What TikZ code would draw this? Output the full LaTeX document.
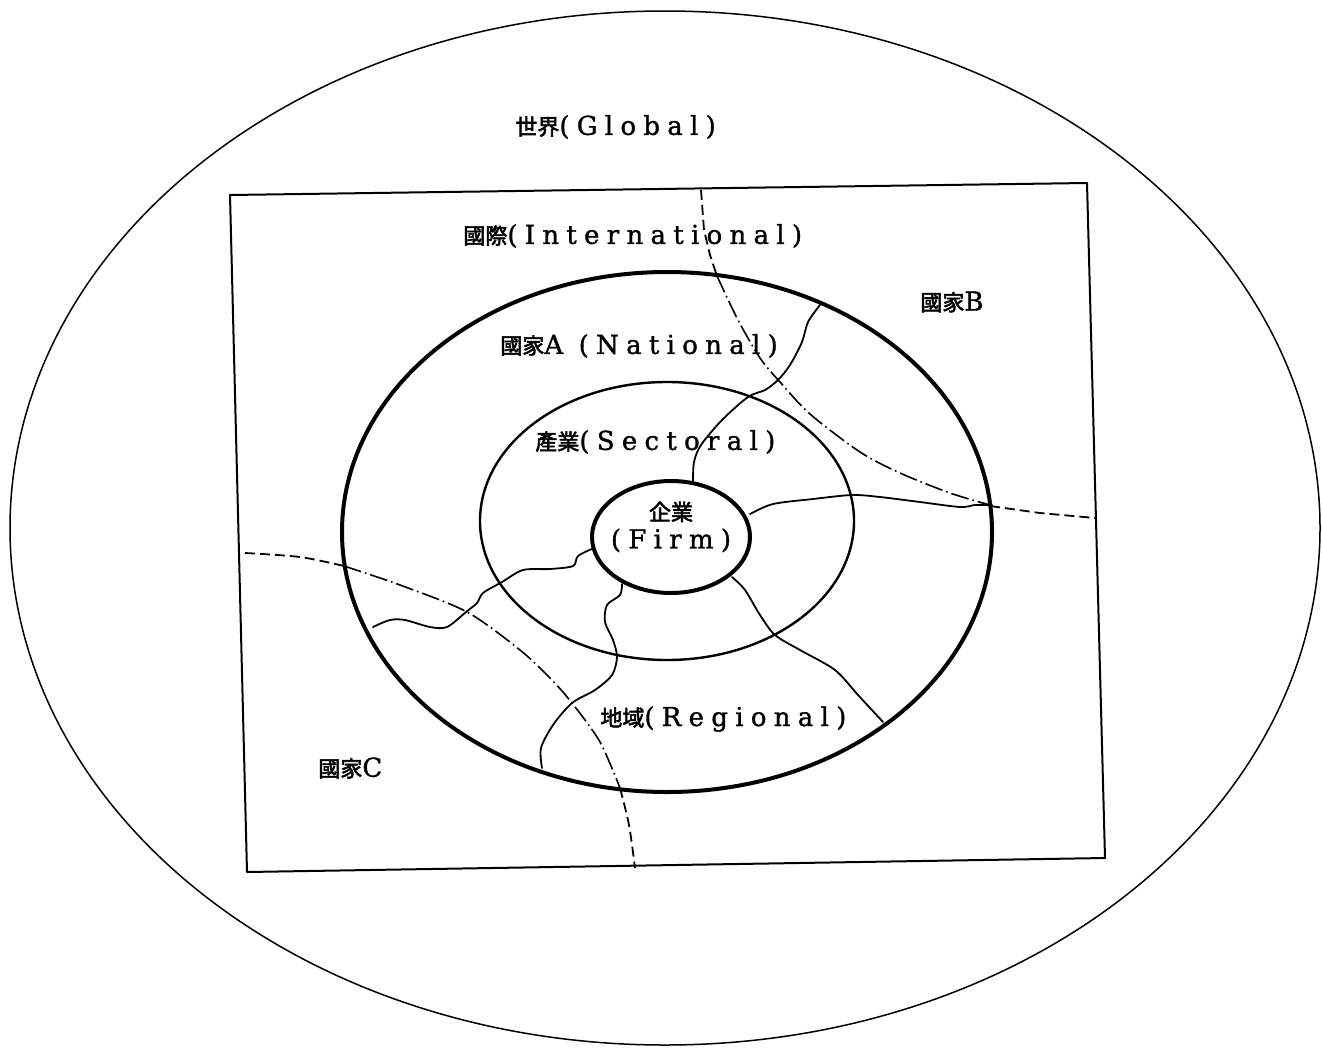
\documentclass[tikz,border=0pt]{standalone}
\usepackage{fontspec}
\setmainfont{DejaVu Serif}[LetterSpace=28, FakeBold=1.2]
\newfontfamily\cjk{Noto Sans CJK KR}[FakeBold=2.5]
\newcommand{\cj}[1]{{\fontsize{11}{12}\cjk #1}}
\begin{document}
\begin{tikzpicture}[x=0.5pt,y=-0.5pt,
  lab/.style={inner sep=0pt, anchor=west, font=\fontsize{13}{15}\selectfont},
  border/.style={line width=0.8pt, line join=round},
  bound/.style={line width=0.9pt, line join=round, line cap=round},
  dsh/.style={line width=0.9pt, dash pattern=on 5pt off 2.5pt},
  dshdot/.style={line width=0.8pt, dash pattern=on 9pt off 2pt on 0.8pt off 2pt}]
\useasboundingbox (0,0) rectangle (1322,1050);
\fill[white] (0,0) rectangle (1322,1050);

% global ellipse
\draw[line width=0.75pt] (665,528) ellipse [x radius=655, y radius=517];

% international rectangle
\coordinate (r1) at (230,195);
\coordinate (r2) at (1087,183);
\coordinate (r3) at (1105,858);
\coordinate (r4) at (247,872);
\draw[border, line width=1pt] (r1) -- (r2) -- (r3) -- (r4) -- cycle;

% national, sectoral, firm circles
\draw[line width=2pt] (667,532) ellipse [x radius=325, y radius=260];
\draw[line width=1.2pt] (667,521) ellipse [x radius=187, y radius=139];
\draw[line width=2pt] (671,537) ellipse [x radius=79, y radius=56];

% country B boundary
\draw[dsh] (701,190) -- (704,230) -- (710,255) -- (717,276);
\draw[dshdot] plot[smooth, tension=0.5] coordinates {(717,276) (738,320) (760,358) (780,382) (810,414) (860,452) (900,473) (950,493) (990,505)};
\draw[dsh] (990,506) -- (1040,513) -- (1095,518);

% country C boundary
\draw[dsh] plot[smooth, tension=0.5] coordinates {(245,553) (300,557) (344,566)};
\draw[dshdot] plot[smooth, tension=0.5] coordinates {(344,566) (400,585) (467,612) (520,650) (550,678) (572,703) (600,742) (620,788)};
\draw[dsh] plot[smooth, tension=0.5] coordinates {(620,788) (629,825) (635,868)};

% regional boundaries
\draw[bound] plot[smooth, tension=0.5] coordinates {(693,483) (694,462) (701,445) (722,420) (748,397) (765,390) (778,380) (790,365) (802,342) (808,322) (820,305)};
\draw[bound] plot[smooth, tension=0.5] coordinates {(750,514) (773,504) (813,499) (852,495) (880,497) (920,502) (960,507) (975,505) (992,505)};
\draw[bound] plot[smooth, tension=0.5] coordinates {(732,577) (745,590) (760,615) (775,635) (800,650) (835,670) (858,695) (883,722)};
\draw[bound] plot[smooth, tension=0.5] coordinates {(622,584) (620,595) (607,605) (605,622) (613,640) (617,657) (612,675) (595,690) (572,703) (553,725) (541,748) (542,768)};
\draw[bound] plot[smooth, tension=0.5] coordinates {(594,548) (578,556) (573,566) (550,569) (523,570) (502,582) (483,593) (477,603) (466,612) (447,627) (430,627) (405,620) (390,620) (373,627)};

% labels
\node[lab] (glob) at (515,127) {\cj{世界}(Global)};
\node[lab] (intl) at (463,236) {\cj{國際}(International)};
\node[lab] (natb) at (920,302) {\cj{國家}B};
\node[lab] (nata) at (500,346) {\cj{國家}A (National)};
\node[lab] (sect) at (535,442) {\cj{產業}(Sectoral)};
\node[inner sep=0pt, align=center, font=\fontsize{13}{14}\selectfont] (firm) at (671,527) {\cj{企業}\\(Firm)};
\node[lab] (regi) at (600,719) {\cj{地域}(Regional)};
\node[lab] (natc) at (318,768) {\cj{國家}C};
\end{tikzpicture}
\end{document}
